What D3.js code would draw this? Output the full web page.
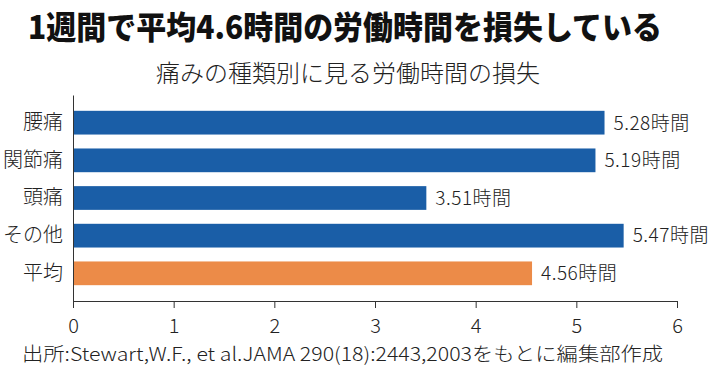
<!DOCTYPE html>
<html>
<head>
<meta charset="utf-8">
<script src="https://cdn.jsdelivr.net/npm/d3@7"></script>
<style>
  body { margin: 0; background: #fff; }
  text { font-family: "Noto Sans CJK JP", "Noto Sans", sans-serif; }
</style>
</head>
<body>
<div id="container"></div>
<script>
// Constants and globals
const width = 710,
  height = 367,
  margin = { top: 95, bottom: 66, left: 73, right: 33 },
  blue = "#1a5ea7",
  orange = "#ec8b48"

// data
const categories = ["腰痛", "関節痛", "頭痛", "その他", "平均"]
const hours = [5.28, 5.19, 3.51, 5.47, 4.56]
const xTicks = [0, 1, 2, 3, 4, 5, 6]
const title = "1週間で平均4.6時間の労働時間を損失している"
const subtitle = "痛みの種類別に見る労働時間の損失"
const source = "出所:Stewart,W.F., et al.JAMA 290(18):2443,2003をもとに編集部作成"

const data = categories.map((c, i) => ({ category: c, value: hours[i] }))

// scales
const xScale = d3.scaleLinear()
  .domain([0, 6])
  .range([margin.left, width - margin.right])

const yScale = d3.scaleBand()
  .domain(categories)
  .range([margin.top, height - margin.bottom])
  .paddingInner(0.37)
  .paddingOuter(0.42)

// svg
const svg = d3.select("#container")
  .append("svg")
  .attr("width", width)
  .attr("height", height)

// titles
svg.append("text")
  .attr("x", 345)
  .attr("y", 39)
  .attr("text-anchor", "middle")
  .attr("font-size", 32)
  .attr("font-weight", 900)
  .attr("fill", "#111")
  .attr("textLength", 634)
  .attr("lengthAdjust", "spacingAndGlyphs")
  .text(title)

svg.append("text")
  .attr("x", 348)
  .attr("y", 82)
  .attr("text-anchor", "middle")
  .attr("font-size", 24)
  .attr("font-weight", 300)
  .attr("fill", "#222")
  .text(subtitle)

// bars
svg.selectAll("rect.bar")
  .data(data)
  .join("rect")
  .attr("class", "bar")
  .attr("x", xScale(0))
  .attr("y", d => yScale(d.category))
  .attr("width", d => xScale(d.value) - xScale(0))
  .attr("height", yScale.bandwidth())
  .attr("fill", d => d.category === "平均" ? orange : blue)

// value labels
svg.selectAll("text.value")
  .data(data)
  .join("text")
  .attr("class", "value")
  .attr("x", d => xScale(d.value) + 9)
  .attr("y", d => yScale(d.category) + yScale.bandwidth() / 2)
  .attr("dy", "0.36em")
  .attr("font-size", 19)
  .attr("font-weight", 300)
  .attr("letter-spacing", 0.5)
  .attr("fill", "#222")
  .text(d => d.value.toFixed(2) + "時間")

// axes
const xAxis = d3.axisBottom(xScale)
  .tickValues(xTicks)
  .tickFormat(d3.format("d"))
  .tickSize(7)
  .tickSizeOuter(0)
  .tickPadding(11)

const gx = svg.append("g")
  .attr("transform", `translate(0,${height - margin.bottom})`)
  .call(xAxis)
gx.selectAll("text")
  .attr("font-size", 20)
  .attr("font-weight", 300)
  .attr("fill", "#222")
  .style("font-family", "'Noto Sans CJK JP'")
gx.selectAll("line, path").attr("stroke", "#333")

const yAxis = d3.axisLeft(yScale)
  .tickSize(0)
  .tickPadding(10)

const gy = svg.append("g")
  .attr("transform", `translate(${margin.left},0)`)
  .call(yAxis)
gy.selectAll("text")
  .attr("font-size", 20)
  .attr("font-weight", 300)
  .attr("fill", "#222")
  .style("font-family", "'Noto Sans CJK JP'")
gy.select("path").attr("stroke", "#333")

// source
svg.append("text")
  .attr("x", 22)
  .attr("y", 361)
  .attr("font-size", 19)
  .attr("font-weight", 300)
  .attr("fill", "#222")
  .attr("textLength", 641)
  .attr("lengthAdjust", "spacingAndGlyphs")
  .text(source)
</script>
</body>
</html>
